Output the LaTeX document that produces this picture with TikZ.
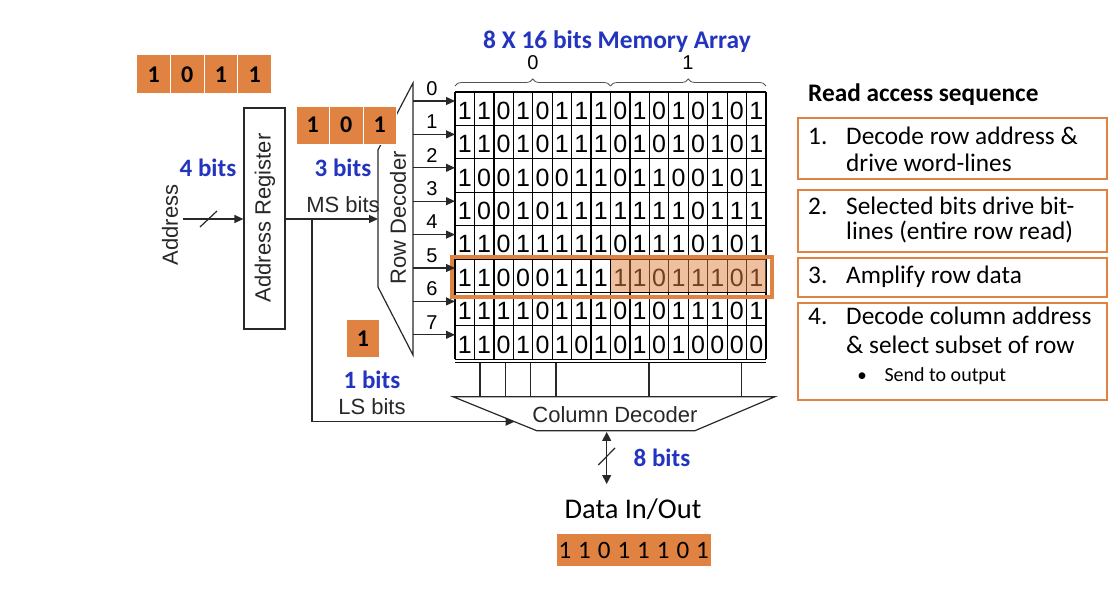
\documentclass[tikz,border=0pt]{standalone}
\usepackage{fontspec}
\setmainfont{Carlito}
\newfontfamily\arial{Liberation Sans}
\usetikzlibrary{arrows.meta,decorations.pathreplacing,calc}
\definecolor{org}{RGB}{224,130,66}
\definecolor{blu}{RGB}{35,52,190}
\definecolor{ln}{RGB}{40,40,40}
\newcommand\fsz[1]{\fontsize{#1}{#1}\selectfont}
\begin{document}
\begin{tikzpicture}[x=1pt,y=-1pt,
  lbl/.style={font=\arial\fsz{22}, text=ln, inner sep=0},
  bit/.style={font=\arial\fsz{25}, text=black, inner sep=0},
  rowlbl/.style={font=\arial\fsz{20}, text=black, inner sep=0},
  gridln/.style={line width=1.3, black},
  wire/.style={line width=1.2, ln},
  arr/.style={wire, -{Triangle[length=9pt,width=8pt]}},
  ocell/.style={fill=org, draw=white, line width=1, inner sep=0, font=\bfseries\fsz{24}},
  blab/.style={text=blu, font=\bfseries\fsz{25}, inner sep=0},
  sbox/.style={draw=org, line width=2, inner sep=0},
  stxt/.style={anchor=base west, font=\fsz{25.3}, inner sep=0},
]
\fill[white] (0,0) rectangle (1120,612);
\useasboundingbox (0,0) rectangle (1120,612);

% ---------- memory array ----------
\node[blab, anchor=base, font=\bfseries\fsz{25.4}] (title) at (617,48.3) {8 X 16 bits Memory Array};
\draw[decorate, decoration={brace, amplitude=7pt}, line width=0.8, ln!80] (455,86) -- (610.5,86);
\draw[decorate, decoration={brace, amplitude=7pt}, line width=0.8, ln!80] (610.5,86) -- (766,86);
\node[rowlbl] (h0) at (533,63) {0};
\node[rowlbl] (h1) at (688,63) {1};

\foreach [count=\r from 0] \row in {
 {1,1,0,1,0,1,1,1,0,1,0,1,0,1,0,1},
 {1,1,0,1,0,1,1,1,0,1,0,1,0,1,0,1},
 {1,0,0,1,0,0,1,1,0,1,1,0,0,1,0,1},
 {1,0,0,1,0,1,1,1,1,1,1,1,0,1,1,1},
 {1,1,0,1,1,1,1,1,0,1,1,1,0,1,0,1},
 {1,1,0,0,0,1,1,1,1,1,0,1,1,1,0,1},
 {1,1,1,1,0,1,1,1,0,1,0,1,1,1,0,1},
 {1,1,0,1,0,1,0,1,0,1,0,1,0,0,0,0}} {
  \foreach [count=\c from 0] \b in \row {
    \node[bit] (m-\r-\c) at ({455+(\c+0.5)*19.44},{92+(\r+0.5)*33.4+2}) {\b};
  }
}
\foreach \i in {0,...,8} \draw[gridln] (455,{92+\i*33.4}) -- (766,{92+\i*33.4});
\foreach \j in {0,...,16} \draw[gridln] ({455+\j*19.44},92) -- ({455+\j*19.44},359.2);
\draw[gridln] (455,362.7) -- (766,362.7);

% highlighted row
\fill[org, opacity=0.5] (610.5,259) rectangle (766,292.4);
\node[draw=org, line width=4, minimum width=320, minimum height=39.7, inner sep=0] (sel) at (611.7,276.85) {};

% ---------- row decoder ----------
\draw[wire] (413,83) -- (413,355) -- (378,287) -- (378,150) -- cycle;
\node[lbl, rotate=90] (rdtxt) at (398,218) {Row Decoder};
\foreach \r in {0,...,7} {
  \coordinate (wl\r) at (455,{92+\r*33.4+9});
  \coordinate (rd\r) at (413,{92+\r*33.4+9});
  \draw[arr] (rd\r) -- (wl\r);
  \node[rowlbl] (rl\r) at (432,{92+\r*33.4-3.5}) {\r};
}

% ---------- address register ----------
\node[draw=ln, line width=1.2, minimum width=41, minimum height=221, inner sep=0] (areg) at (264.5,218.5) {};
\node[lbl, rotate=90] (aregtxt) at (265,218) {Address Register};
\node[lbl, rotate=90] (addr) at (170,225) {Address};
\coordinate (ain) at (183,219);
\draw[arr] (ain) -- (areg.west |- ain);
\draw[wire] (200,227) -- (217,211);
\coordinate (rdin) at (378,219);
\draw[arr] (areg.east |- rdin) -- (rdin);
\node[lbl, anchor=base] (ms) at (343,213) {MS bits};

% ---------- LS path and column decoder ----------
\draw[wire] (453,396.7) -- (775,396.7) -- (695,430.7) -- (536.7,430.7) -- cycle;
\node[lbl] (cdtxt) at (615,415) {Column Decoder};
\coordinate (split) at (312,219);
\coordinate (cdin) at (514.5,421.7);
\draw[arr] (split) -- (split |- cdin) -- (cdin);
\node[lbl, anchor=base] (ls) at (372,415) {LS bits};
\foreach \x in {480,505.7,530.7,556,649,741.7} \draw[wire] (\x,362.7) -- (\x,396.7);

% data in/out
\coordinate (dtop) at (606.7,432);
\coordinate (dbot) at (606.7,484);
\draw[wire, {Triangle[length=9pt,width=9pt]}-{Triangle[length=9pt,width=9pt]}] (dtop) -- (dbot);
\draw[wire] (598.3,465) -- (615,448);
\node[blab] (b8) at (662,458) {8 bits};
\node[font=\fsz{28.5}, inner sep=0, anchor=base] (dio) at (633,518) {Data In/Out};
\node[fill=org, minimum width=154, minimum height=32, inner sep=0, font=\fsz{25}] (dout) at (633.7,550) {1\hspace{7pt}1\hspace{7pt}0\hspace{7pt}1\hspace{7pt}1\hspace{7pt}1\hspace{7pt}0\hspace{7pt}1};

% ---------- orange address boxes ----------
\node[ocell, minimum width=33.7, minimum height=39] (a0) at (153.6,74.5) {1};
\node[ocell, minimum width=33.7, minimum height=39] (a1) at (187.3,74.5) {0};
\node[ocell, minimum width=33.7, minimum height=39] (a2) at (221,74.5) {1};
\node[ocell, minimum width=33.7, minimum height=39] (a3) at (254.8,74.5) {1};
\node[ocell, minimum width=33.5, minimum height=38.3] (r0) at (312.8,125.2) {1};
\node[ocell, minimum width=33.5, minimum height=38.3] (r1) at (346.3,125.2) {0};
\node[ocell, minimum width=33.5, minimum height=38.3] (r2) at (379.8,125.2) {1};
\node[ocell, minimum width=32.6, minimum height=38] (c0) at (363,339) {1};
\node[blab] (b4) at (208,168) {4 bits};
\node[blab] (b3) at (343,168) {3 bits};
\node[blab] (b1) at (372,380) {1 bits};

% ---------- read access sequence ----------
\node[anchor=base west, font=\bfseries\fsz{25.3}, inner sep=0] (ras) at (808,101.7) {Read access sequence};
\node[sbox, minimum width=308.4, minimum height=61] (s1) at (952.5,148.8) {};
\node[sbox, minimum width=308.4, minimum height=61.7] (s2) at (952.5,220.85) {};
\node[sbox, minimum width=308.4, minimum height=38.4] (s3) at (952.5,277.5) {};
\node[sbox, minimum width=308.4, minimum height=96.7] (s4) at (952.5,351.65) {};
\node[stxt] (n1) at (808,145) {1.};
\node[stxt] (t1a) at (846,145) {Decode row address \&};
\node[stxt] (t1b) at (846,171.7) {drive word-lines};
\node[stxt] (n2) at (808,215) {2.};
\node[stxt] (t2a) at (846,215) {Selected bits drive bit-};
\node[stxt] (t2b) at (846,240) {lines (entire row read)};
\node[stxt] (n3) at (808,283.3) {3.};
\node[stxt] (t3a) at (846,283.3) {Amplify row data};
\node[stxt] (n4) at (808,325) {4.};
\node[stxt] (t4a) at (846,325) {Decode column address};
\node[stxt] (t4b) at (846,353.3) {\& select subset of row};
\node[anchor=base, font=\fsz{19}, inner sep=0] (bul) at (862,381.7) {•};
\node[anchor=base west, font=\fsz{20}, inner sep=0] (t4c) at (884.3,381.7) {Send to output};
\end{tikzpicture}
\end{document}
